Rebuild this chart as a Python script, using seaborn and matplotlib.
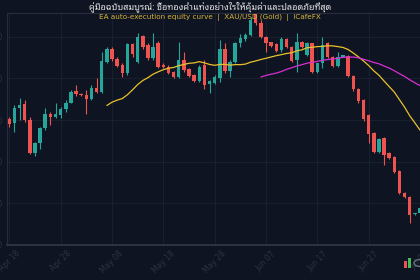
import numpy as np
import pandas as pd
import matplotlib
matplotlib.use("Agg")
import matplotlib.pyplot as plt
import seaborn as sns
from matplotlib.patches import Rectangle, Circle

# ---------------- data ----------------
start_date = "2024-04-18"
opens = [2351.2, 2346, 2364, 2368.8, 2350, 2310, 2322.8, 2340, 2356.8, 2354,
         2356, 2362.8, 2370.8, 2384.8, 2381.2, 2380, 2374.8, 2388, 2384, 2420,
         2434.8, 2423.6, 2416, 2406.8, 2440.8, 2420, 2450.8, 2439.6, 2424, 2442,
         2416, 2414, 2408, 2402, 2422, 2410.8, 2404, 2397.2, 2416, 2393.2,
         2394.8, 2400, 2435.2, 2409.2, 2420, 2442.8, 2446.8, 2452, 2477.2, 2466,
         2450, 2443.2, 2440.8, 2434, 2446.8, 2437.2, 2422, 2444, 2428, 2442,
         2408, 2418, 2442, 2426, 2414.8, 2426, 2426.8, 2402.8, 2386.8, 2374,
         2356, 2334, 2312, 2328, 2310, 2306, 2288.8, 2262.8, 2258, 2236.8,
         2238]
highs = [2354, 2368, 2376, 2374, 2354, 2324, 2342, 2364, 2360, 2370,
         2366, 2374, 2386, 2392, 2382.8, 2386, 2392, 2400, 2432, 2437.2,
         2437.2, 2426, 2418, 2442, 2442, 2454.8, 2452, 2442, 2454, 2445.2,
         2418, 2416, 2409.2, 2444, 2432, 2412, 2405.2, 2416, 2422, 2398,
         2404, 2446, 2442, 2422, 2444, 2453.2, 2454, 2473.6, 2479.6, 2470,
         2450.8, 2444, 2442, 2450, 2448, 2438.8, 2454.8, 2445.2, 2443.6, 2442.8,
         2418.8, 2450, 2443.2, 2427.2, 2432, 2428.4, 2428, 2404, 2388, 2375.2,
         2357.2, 2336, 2328.8, 2330, 2311.2, 2307.2, 2290, 2264, 2259.2, 2238.8,
         2246]
lows = [2342, 2336, 2350, 2348, 2309.2, 2307.2, 2314.8, 2338, 2344, 2352,
        2352, 2360, 2370, 2378.8, 2378.8, 2357.2, 2374, 2382.8, 2382.8, 2418,
        2421.2, 2413.2, 2402, 2404, 2426, 2418, 2434.8, 2422, 2422, 2412,
        2412, 2405.2, 2400, 2400, 2408, 2402, 2396, 2396, 2386.8, 2382,
        2393.2, 2396, 2406, 2402, 2418.8, 2438, 2445.2, 2450.8, 2464, 2448,
        2432, 2437.2, 2431.6, 2432, 2436, 2420, 2408, 2436, 2426.8, 2406.8,
        2406.8, 2412, 2424.8, 2413.2, 2413.6, 2425.2, 2401.2, 2385.2, 2370.8, 2349.2,
        2322, 2310.8, 2310.8, 2296, 2302.8, 2286, 2260.8, 2256, 2226, 2236,
        2237.2]
closes = [2344.8, 2364.8, 2368, 2350, 2310, 2322.8, 2340, 2356.8, 2353.2, 2356.8,
          2363.6, 2370.8, 2384, 2380.8, 2379.6, 2374.8, 2388, 2384, 2420.8, 2434.8,
          2422.8, 2414.8, 2406, 2440.8, 2428.8, 2449.2, 2438, 2424, 2437.2, 2414,
          2414, 2406.8, 2402, 2422, 2410, 2403.2, 2397.2, 2414, 2392, 2396.8,
          2402, 2435.2, 2408.8, 2420, 2442.8, 2448, 2452, 2470, 2466, 2450,
          2442, 2438.8, 2433.2, 2446.8, 2437.2, 2421.2, 2444, 2437.2, 2442, 2408,
          2418, 2440, 2426, 2414.8, 2426, 2427.6, 2402.8, 2386.8, 2373.2, 2350.8,
          2332.8, 2312, 2327.2, 2308, 2304, 2288, 2262, 2258, 2236, 2238,
          2244]
ma_fast_window = 20
ma_slow_window = 50
y_ticks = [2200, 2250, 2300, 2350, 2400, 2450]
title = "คู่มือฉบับสมบูรณ์: ซื้อทองคำแท่งอย่างไรให้คุ้มค่าและปลอดภัยที่สุด"
subtitle = "EA auto-execution equity curve  |  XAU/USD (Gold)  |  iCafeFX"

# ---------------- frame ----------------
df = pd.DataFrame({
    "date": pd.date_range(start_date, periods=len(opens), freq="D"),
    "open": opens, "high": highs, "low": lows, "close": closes,
})
df["i"] = np.arange(len(df))
df["ma_fast"] = df["close"].rolling(ma_fast_window).mean()
df["ma_slow"] = df["close"].rolling(ma_slow_window).mean()
up = df["close"] >= df["open"]

BG = "#0e1421"
GRID = "#1b2230"
SPINE = "#262d3c"
GREEN = "#26a69a"
RED = "#ef5350"
TICK = "#2c3342"

sns.set_theme(style="dark")
plt.rcParams["font.family"] = ["DejaVu Sans"]

fig = plt.figure(figsize=(4.2, 2.8), dpi=100, facecolor=BG)
ax = fig.add_axes([7 / 420, 35 / 280, 1.02, 232 / 280])
ax.set_facecolor(BG)

colors = np.where(up, GREEN, RED)
ax.vlines(df["i"], df["low"], df["high"], colors=colors, linewidth=0.8, zorder=2)
body_bottom = np.minimum(df["open"], df["close"])
body_h = np.maximum(np.abs(df["close"] - df["open"]), 0.6)
ax.bar(df["i"], body_h, bottom=body_bottom, width=0.68, color=colors,
       linewidth=0, zorder=3)

sns.lineplot(data=df, x="i", y="ma_fast", ax=ax, color="#e8c22c", linewidth=0.9,
             zorder=4, legend=False)
sns.lineplot(data=df, x="i", y="ma_slow", ax=ax, color="#d62fd6", linewidth=0.9,
             zorder=4, legend=False)

ax.set_xlim(-0.45, 83)
ax.set_ylim(2200, 2478.4)
ax.set_xticks(df["i"][::10])
ax.set_xticklabels([d.strftime("%b %d") for d in df["date"][::10]],
                   rotation=45, ha="center", fontsize=5.5, color=TICK)
ax.set_yticks(y_ticks)
ax.set_yticklabels([str(v) for v in y_ticks], fontsize=5.5, color=TICK)
ax.tick_params(axis="both", length=0, pad=3)
ax.set_xlabel("")
ax.set_ylabel("")
ax.grid(True, color=GRID, linewidth=0.6)
for s in ax.spines.values():
    s.set_color(SPINE)
    s.set_linewidth(0.8)
ax.spines["bottom"].set_color("#323949")
ax.spines["bottom"].set_linewidth(1.2)

fig.text(0.5, 1 - 7 / 280, title, ha="center", va="center", fontsize=6.5,
         color="#e6e6e6", family=["Noto Sans Thai Looped", "DejaVu Sans"],
         fontweight="bold")
fig.text(0.5, 1 - 17.5 / 280, subtitle, ha="center", va="center", fontsize=5.2,
         color="#d9b53a")

# small logo mark at bottom right
fig.add_artist(Rectangle((404 / 420, 1 - 268 / 280), 2.5 / 420, 7 / 280,
                         transform=fig.transFigure, color=RED, lw=0))
fig.add_artist(Rectangle((408 / 420, 1 - 268 / 280), 2.5 / 420, 10 / 280,
                         transform=fig.transFigure, color="#3fbf5a", lw=0))
fig.add_artist(Circle((419 / 420, 1 - 263 / 280), 5 / 420,
                      transform=fig.transFigure, fill=False, ec="#6a707c", lw=1))

fig.savefig("out.png", dpi=100, facecolor=BG)
